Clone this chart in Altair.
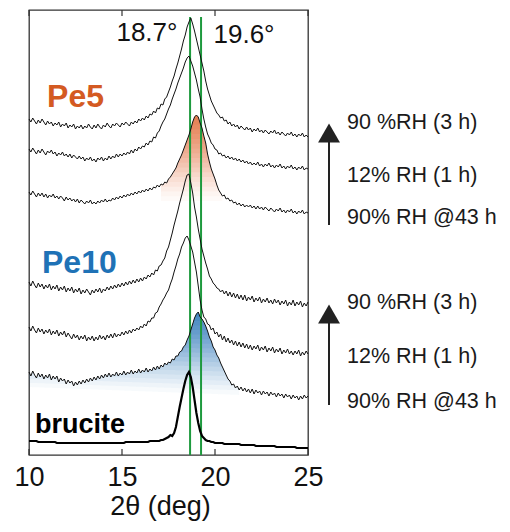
import altair as alt
import pandas as pd

# ---- data (2theta grid 10..25 deg, step 0.1) ----
TWO_THETA = [round(10 + 0.1 * i, 1) for i in range(151)]

PE5_90_3H = [
    336, 333, 337, 334, 331, 335, 332, 336, 333, 330,
    334, 331, 333, 329, 332, 330, 333, 328, 331, 329,
    332, 327, 330, 328, 331, 326, 329, 327, 330, 326,
    329, 327, 331, 328, 326, 330, 327, 331, 328, 326,
    330, 328, 332, 329, 327, 331, 329, 332, 330, 328,
    332, 330, 333, 331, 329, 333, 331, 334, 332, 336,
    334, 337, 335, 339, 337, 341, 340, 344, 342, 347,
    346, 351, 350, 356, 358, 363, 368, 374, 379, 386,
    392, 399, 406, 414, 420, 428, 433, 437, 431, 424,
    416, 408, 400, 392, 384, 374, 366, 360, 354, 350,
    346, 342, 340, 337, 338, 334, 335, 331, 333, 329,
    331, 328, 330, 326, 329, 327, 325, 328, 325, 327,
    323, 326, 324, 327, 323, 325, 322, 325, 323, 321,
    324, 322, 325, 321, 323, 320, 323, 321, 319, 322,
    320, 323, 319, 321, 318, 321, 319, 322, 318, 320,
    318,
]
PE5_12_1H = [
    306, 303, 307, 304, 301, 305, 302, 306, 303, 300,
    304, 302, 305, 301, 303, 299, 302, 300, 303, 299,
    301, 298, 301, 297, 300, 298, 296, 299, 296, 298,
    294, 297, 295, 298, 294, 296, 293, 297, 295, 298,
    294, 297, 295, 299, 296, 299, 297, 301, 298, 301,
    299, 302, 300, 303, 301, 305, 302, 306, 304, 308,
    306, 309, 308, 312, 310, 314, 313, 318, 317, 322,
    324, 329, 333, 336, 341, 346, 350, 356, 361, 366,
    372, 377, 382, 387, 393, 397, 399, 394, 389, 382,
    375, 366, 358, 346, 336, 328, 321, 317, 312, 310,
    306, 305, 301, 302, 299, 300, 297, 299, 296, 298,
    295, 297, 294, 296, 293, 295, 292, 294, 291, 293,
    290, 292, 290, 293, 289, 291, 288, 291, 289, 292,
    288, 290, 287, 290, 288, 291, 287, 289, 286, 289,
    287, 290, 286, 288, 285, 288, 286, 289, 285, 287,
    286,
]
PE5_90_43H = [
    263, 260, 264, 261, 258, 262, 259, 262, 258, 261,
    257, 260, 258, 261, 257, 259, 256, 259, 257, 254,
    258, 255, 257, 254, 256, 253, 256, 252, 255, 253,
    251, 254, 252, 255, 251, 253, 251, 254, 252, 255,
    253, 256, 253, 255, 254, 257, 255, 258, 256, 259,
    257, 260, 258, 261, 259, 262, 260, 263, 261, 264,
    262, 265, 263, 266, 264, 267, 265, 268, 267, 270,
    268, 271, 270, 273, 272, 276, 278, 281, 284, 287,
    292, 296, 300, 305, 310, 315, 320, 326, 333, 338,
    340, 338, 332, 327, 319, 312, 301, 293, 286, 281,
    276, 270, 265, 262, 259, 260, 256, 257, 254, 255,
    252, 253, 250, 252, 249, 251, 248, 250, 248, 250,
    247, 249, 246, 249, 246, 248, 245, 248, 246, 244,
    247, 245, 243, 246, 244, 247, 243, 245, 242, 245,
    243, 246, 242, 244, 241, 244, 242, 245, 241, 243,
    242,
]
PE10_90_3H = [
    173, 169, 174, 170, 167, 172, 168, 171, 166, 170,
    167, 171, 165, 169, 166, 170, 164, 168, 165, 169,
    163, 167, 164, 168, 162, 166, 163, 167, 161, 165,
    162, 166, 163, 160, 165, 162, 166, 163, 167, 162,
    166, 164, 168, 165, 169, 166, 170, 167, 171, 168,
    172, 169, 173, 170, 174, 171, 175, 172, 176, 173,
    177, 174, 178, 176, 180, 178, 182, 180, 185, 184,
    189, 190, 194, 197, 204, 208, 215, 222, 230, 237,
    244, 252, 259, 266, 274, 280, 281, 272, 262, 248,
    238, 226, 216, 206, 199, 192, 186, 179, 176, 172,
    170, 167, 166, 163, 165, 161, 164, 159, 163, 158,
    162, 157, 161, 156, 160, 155, 160, 154, 158, 155,
    159, 153, 157, 154, 158, 152, 156, 153, 157, 152,
    155, 151, 156, 152, 155, 150, 154, 151, 155, 149,
    153, 150, 155, 149, 153, 150, 154, 148, 152, 149,
    153,
]
PE10_12_1H = [
    128, 124, 129, 125, 122, 127, 123, 126, 121, 125,
    122, 126, 120, 124, 121, 125, 119, 123, 120, 124,
    118, 122, 119, 116, 121, 117, 120, 115, 119, 116,
    120, 114, 118, 115, 119, 114, 118, 115, 120, 116,
    119, 115, 120, 117, 121, 117, 122, 118, 121, 119,
    123, 120, 124, 121, 125, 122, 126, 124, 127, 125,
    129, 127, 131, 129, 134, 133, 137, 137, 142, 143,
    148, 151, 155, 158, 162, 165, 171, 176, 183, 189,
    196, 201, 208, 212, 217, 219, 215, 209, 203, 193,
    183, 169, 155, 145, 138, 136, 131, 130, 125, 127,
    121, 123, 118, 121, 115, 119, 113, 117, 112, 115,
    110, 114, 109, 113, 108, 112, 107, 111, 106, 110,
    105, 109, 106, 110, 104, 108, 105, 109, 103, 107,
    104, 108, 102, 106, 103, 107, 101, 105, 102, 106,
    101, 104, 100, 104, 101, 105, 99, 103, 100, 104,
    101,
]
PE10_90_43H = [
    83, 79, 84, 80, 77, 82, 78, 81, 76, 80,
    77, 81, 75, 79, 76, 79, 73, 77, 74, 76,
    71, 75, 72, 74, 69, 73, 70, 74, 71, 75,
    72, 76, 73, 77, 74, 78, 75, 79, 76, 80,
    77, 81, 78, 82, 78, 81, 79, 83, 79, 82,
    80, 84, 80, 83, 81, 85, 81, 84, 82, 86,
    82, 85, 83, 87, 83, 86, 84, 88, 85, 89,
    86, 90, 88, 92, 90, 93, 92, 96, 95, 99,
    99, 103, 104, 108, 110, 115, 119, 125, 131, 137,
    141, 143, 138, 136, 133, 129, 124, 118, 114, 108,
    105, 100, 97, 92, 88, 84, 80, 76, 74, 70,
    71, 67, 69, 65, 68, 64, 67, 63, 66, 62,
    66, 61, 65, 62, 64, 60, 64, 61, 63, 59,
    63, 60, 62, 58, 62, 59, 61, 57, 61, 58,
    60, 56, 60, 57, 59, 55, 59, 56, 60, 57,
    59,
]
BRUCITE = [
    14, 14, 14, 14, 14, 13, 13, 13, 13, 13,
    13, 13, 13, 13, 13, 12, 12, 12, 12, 12,
    12, 12, 12, 12, 12, 12, 12, 12, 12, 12,
    12, 12, 12, 12, 12, 12, 12, 12, 12, 12,
    12, 12, 12, 12, 12, 12, 12, 12, 12, 12,
    12, 12, 13, 13, 13, 13, 13, 13, 13, 13,
    13, 13, 13, 13, 13, 14, 14, 14, 14, 14,
    14, 15, 15, 16, 17, 18, 20, 19, 22, 28,
    38, 48, 57, 66, 74, 80, 83, 78, 68, 55,
    42, 32, 24, 19, 17, 15, 14, 14, 13, 13,
    12, 12, 12, 12, 12, 11, 11, 11, 11, 11,
    11, 11, 11, 11, 10, 10, 10, 10, 10, 10,
    10, 10, 9, 9, 9, 9, 9, 9, 9, 9,
    9, 9, 9, 8, 8, 8, 8, 8, 8, 8,
    8, 8, 8, 8, 7, 7, 7, 7, 7, 7,
    7,
]

GREEN_LINES = [18.66, 19.25]
X_TICKS = [10, 15, 20, 25]
PEAK_LABELS = ["18.7°", "19.6°"]
SAMPLE_NAMES = ["Pe5", "Pe10", "brucite"]
CONDITIONS = ["90 %RH (3 h)", "12% RH (1 h)", "90% RH @43 h"]

SERIES = [PE5_90_3H, PE5_12_1H, PE5_90_43H, PE10_90_3H, PE10_12_1H, PE10_90_43H]

FONT = "Liberation Sans"

xs = alt.Scale(domain=[10, 25], nice=False, zero=False)
ys = alt.Scale(domain=[0, 445], nice=False, zero=False)


def xq(field):
    # identical axis definition on every layer so that they merge cleanly
    return alt.X(field, scale=xs,
                 axis=alt.Axis(values=X_TICKS, format="d", ticks=False, domain=False, grid=False,
                               labelFlush=False, labelFontSize=27, labelFont=FONT, labelColor="#111",
                               labelPadding=9,
                               title="2θ (deg)", titleFontSize=27, titleFont=FONT,
                               titleFontWeight="normal", titleColor="#111", titlePadding=3,
                               titleX=131))


def yq(field):
    return alt.Y(field, scale=ys, axis=None)


# ---- soft vertical colour fade under two peaks: stacked translucent bands ----
N_BANDS = 18
fill_layers = []
c_df = pd.DataFrame({"tt": TWO_THETA, "I": PE5_90_43H})
c_df = c_df[(c_df.tt >= 17.1) & (c_df.tt <= 20.4)].reset_index(drop=True)
f_df = pd.DataFrame({"tt": TWO_THETA, "I": PE10_90_43H})
f_df = f_df[f_df.tt <= 21.3].reset_index(drop=True)
f_base = 68 - (f_df.tt - 10) * 0.7
for k in range(N_BANDS):
    frac = k / N_BANDS
    lev = 254 + frac * (340 - 254)
    d = pd.DataFrame({"tt": c_df.tt, "top": c_df.I.clip(lower=lev), "lev": lev})
    fill_layers.append(
        alt.Chart(d).mark_area(color="#e2672e", opacity=0.03 + 0.12 * frac).encode(
            x=xq("tt:Q"), y=yq("top:Q"), y2="lev:Q"))
for k in range(N_BANDS):
    frac = k / N_BANDS
    lev = f_base + frac * (143 - f_base)
    d = pd.DataFrame({"tt": f_df.tt, "top": f_df.I.where(f_df.I > lev, lev), "lev": lev})
    fill_layers.append(
        alt.Chart(d).mark_area(color="#1f6fb6", opacity=0.035 + 0.11 * frac).encode(
            x=xq("tt:Q"), y=yq("top:Q"), y2="lev:Q"))

green = alt.Chart(pd.DataFrame({"g": GREEN_LINES, "y0": 0, "y1": 438})).mark_rule(
    color="#1e9a3e", strokeWidth=2
).encode(x=xq("g:Q"), y=yq("y0:Q"), y2="y1:Q")

curve_layers = [
    alt.Chart(pd.DataFrame({"tt": TWO_THETA, "I": vals})).mark_line(color="#111", strokeWidth=1).encode(
        x=xq("tt:Q"), y=yq("I:Q"))
    for vals in SERIES
]
bru = alt.Chart(pd.DataFrame({"tt": TWO_THETA, "I": BRUCITE})).mark_line(
    color="#000", strokeWidth=2.2).encode(x=xq("tt:Q"), y=yq("I:Q"))

ticks = alt.Chart(pd.DataFrame({
    "t": X_TICKS + X_TICKS, "y0": [0] * 4 + [439] * 4, "y1": [6] * 4 + [445] * 4
})).mark_rule(color="#333", strokeWidth=1.2).encode(x=xq("t:Q"), y=yq("y0:Q"), y2="y1:Q")

peak_lbl = alt.Chart(pd.DataFrame({
    "x": [16.34, 21.56], "y": [422, 420], "t": PEAK_LABELS
})).mark_text(font=FONT, fontSize=26, color="#111", align="center", baseline="middle").encode(
    x=xq("x:Q"), y=yq("y:Q"), text="t:N")

name_df = pd.DataFrame({
    "x": [10.97, 10.70, 10.32], "y": [358, 192, 30],
    "t": SAMPLE_NAMES, "c": ["#d45a22", "#1f72b6", "#000000"],
    "s": [32, 32, 27],
})
names = alt.Chart(name_df).mark_text(font=FONT, fontWeight="bold", align="left", baseline="middle").encode(
    x=xq("x:Q"), y=yq("y:Q"), text="t:N",
    color=alt.Color("c:N", scale=None), size=alt.Size("s:Q", scale=None))

annot = alt.Chart(pd.DataFrame({
    "t": CONDITIONS + CONDITIONS, "y": [332, 279, 237, 152, 98, 53], "x": [27.1] * 6
})).mark_text(font=FONT, fontSize=21.5, color="#1a1a1a", align="left", baseline="middle").encode(
    x=xq("x:Q"), y=yq("y:Q"), text="t:N")

arrow_lines = alt.Chart(pd.DataFrame({"x": [26.13, 26.13], "y0": [230, 50], "y1": [314, 134]})).mark_rule(
    color="#222", strokeWidth=2).encode(x=xq("x:Q"), y=yq("y0:Q"), y2="y1:Q")
arrow_tip = alt.Chart(pd.DataFrame({"x": [26.13, 26.13], "tip": [322, 141]})).mark_point(
    shape="triangle-up", size=480, filled=True, color="#222", opacity=1).encode(
    x=xq("x:Q"), y=yq("tip:Q"))

chart = alt.layer(
    *fill_layers, green, *curve_layers, bru, ticks,
    peak_lbl, names, annot, arrow_lines, arrow_tip
).properties(
    width=279, height=445,
    autosize=alt.AutoSizeParams(type="none"),
    padding={"left": 29, "top": 10, "right": 202, "bottom": 77},
).configure_view(stroke="#333", strokeWidth=1.3)

chart.save("out.html", embed_options={"renderer": "svg", "actions": False})
